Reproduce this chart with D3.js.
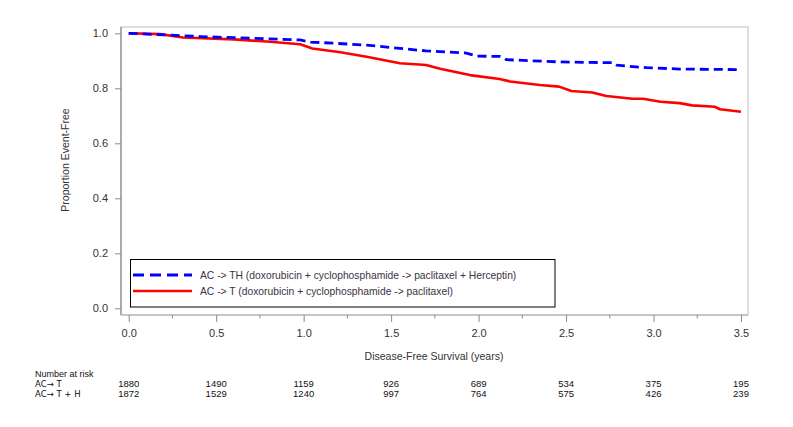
<!DOCTYPE html>
<html>
<head>
<meta charset="utf-8">
<script src="https://cdn.jsdelivr.net/npm/d3@7"></script>
<style>
  html, body { margin: 0; padding: 0; background: #fff; }
  svg { display: block; font-family: "Liberation Sans", Arial, sans-serif; }
</style>
</head>
<body>
<svg id="chart" width="793" height="427"></svg>
<script>
// ---- data ----
const timesTH = [0, 0.22, 0.41, 0.79, 0.98, 1.04, 1.17, 1.36, 1.55, 1.70, 1.93, 1.99, 2.12, 2.16, 2.46, 2.77, 2.79, 2.96, 3.15, 3.50];
const survTH  = [1.0, 0.994, 0.988, 0.980, 0.976, 0.968, 0.964, 0.957, 0.945, 0.936, 0.928, 0.917, 0.916, 0.904, 0.896, 0.893, 0.884, 0.875, 0.870, 0.868];
const timesT  = [0, 0.18, 0.31, 0.60, 0.79, 0.98, 1.05, 1.21, 1.36, 1.55, 1.70, 1.78, 1.95, 2.12, 2.18, 2.35, 2.46, 2.53, 2.65, 2.73, 2.88, 2.94, 3.04, 3.15, 3.22, 3.35, 3.38, 3.50];
const survT   = [1.0, 0.997, 0.985, 0.978, 0.970, 0.960, 0.945, 0.931, 0.915, 0.891, 0.885, 0.871, 0.848, 0.834, 0.825, 0.812, 0.806, 0.790, 0.785, 0.772, 0.762, 0.762, 0.751, 0.746, 0.738, 0.733, 0.724, 0.715];
const xTicks = [0, 0.5, 1.0, 1.5, 2.0, 2.5, 3.0, 3.5];
const xMinorTicks = [0.25, 0.75, 1.25, 1.75, 2.25, 2.75, 3.25];
const yTicks = [0, 0.2, 0.4, 0.6, 0.8, 1.0];
const legendLabels = [
  "AC -> TH (doxorubicin + cyclophosphamide -> paclitaxel + Herceptin)",
  "AC -> T (doxorubicin + cyclophosphamide -> paclitaxel)"
];
const riskRowLabels = ["AC\u2192 T", "AC\u2192 T + H"];
const riskT  = [1880, 1490, 1159, 926, 689, 534, 375, 195];
const riskTH = [1872, 1529, 1240, 997, 764, 575, 426, 239];

// ---- layout ----
const svg = d3.select("#chart");
const x = d3.scaleLinear().domain([0, 3.5]).range([128.7, 741]);
const y = d3.scaleLinear().domain([0, 1]).range([308.3, 33.3]);
const frame = {l: 121, t: 27, r: 748, b: 315};
const textCol = "#333";

// frame
svg.append("rect")
  .attr("x", frame.l).attr("y", frame.t)
  .attr("width", frame.r - frame.l).attr("height", frame.b - frame.t)
  .attr("fill", "none").attr("stroke", "#d2d2d2").attr("stroke-width", 1.5);

// y axis
const yAxis = svg.append("g").attr("transform", `translate(${frame.l},0)`)
  .call(d3.axisLeft(y).tickValues(yTicks).tickFormat(d3.format(".1f")).tickSize(6).tickPadding(7));
yAxis.select(".domain").attr("d", `M0,${frame.t}V${frame.b}`).attr("stroke", "#9a9a9a").attr("stroke-width", 1.5);
yAxis.selectAll(".tick line").attr("stroke", "#8a8a8a");
yAxis.selectAll(".tick text").attr("fill", textCol).style("font-size", "11px");

// x axis
const xAxis = svg.append("g").attr("transform", `translate(0,${frame.b})`)
  .call(d3.axisBottom(x).tickValues(xTicks).tickFormat(d3.format(".1f")).tickSize(7).tickPadding(7));
xAxis.select(".domain").attr("d", `M${frame.l},0H${frame.r}`).attr("stroke", "#bdbdbd").attr("stroke-width", 1.5);
xAxis.selectAll(".tick line").attr("stroke", "#8a8a8a");
xAxis.selectAll(".tick text").attr("fill", textCol).style("font-size", "11px");
svg.append("g").attr("transform", `translate(0,${frame.b})`)
  .selectAll("line").data(xMinorTicks).join("line")
  .attr("x1", d => x(d)).attr("x2", d => x(d))
  .attr("y1", 0).attr("y2", 3.5).attr("stroke", "#8a8a8a");

// axis titles
svg.append("text")
  .attr("transform", "translate(69,160) rotate(-90)")
  .attr("text-anchor", "middle").attr("fill", textCol).style("font-size", "10.5px")
  .text("Proportion Event-Free");
svg.append("text")
  .attr("x", 434).attr("y", 360)
  .attr("text-anchor", "middle").attr("fill", textCol).style("font-size", "10.5px")
  .text("Disease-Free Survival (years)");

// curves
const line = d3.line().x(d => x(d[0])).y(d => y(d[1]));
const dataTH = timesTH.map((t, i) => [t, survTH[i]]);
const dataT  = timesT.map((t, i) => [t, survT[i]]);
svg.append("path").datum(dataT).attr("d", line)
  .attr("fill", "none").attr("stroke", "#ff0000").attr("stroke-width", 2.6)
  .attr("stroke-linejoin", "round");
svg.append("path").datum(dataTH).attr("d", line)
  .attr("fill", "none").attr("stroke", "#0000ff").attr("stroke-width", 2.8)
  .attr("stroke-dasharray", "9,5");

// legend
const lg = svg.append("g");
lg.append("rect").attr("x", 130.5).attr("y", 259.5).attr("width", 424.5).attr("height", 47.5)
  .attr("fill", "#fff").attr("stroke", "#000").attr("stroke-width", 1);
const legendStyles = [
  {color: "#0000ff", dash: "11,6", w: 2.8},
  {color: "#ff0000", dash: null, w: 2.6}
];
legendLabels.forEach((lab, i) => {
  const yy = 275 + i * 16;
  lg.append("line").attr("x1", 133).attr("x2", 192).attr("y1", yy).attr("y2", yy)
    .attr("stroke", legendStyles[i].color).attr("stroke-width", legendStyles[i].w)
    .attr("stroke-dasharray", legendStyles[i].dash);
  lg.append("text").attr("x", 200).attr("y", yy + 3.8)
    .attr("fill", "#3a3344").style("font-size", "10.3px").text(lab);
});

// number at risk
const risk = svg.append("g").attr("fill", "#111").style("font-size", "9px");
risk.append("text").attr("x", 35).attr("y", 377).text("Number at risk");
riskRowLabels.forEach((lab, i) => {
  risk.append("text").attr("x", 35).attr("y", 387 + i * 10)
    .style("font-family", "'DejaVu Sans', sans-serif").style("font-size", "8.5px").text(lab);
});
[riskT, riskTH].forEach((row, i) => {
  risk.selectAll(null).data(row).join("text")
    .attr("x", (d, j) => x(xTicks[j])).attr("y", 387 + i * 10)
    .attr("text-anchor", "middle").style("font-size", "9.5px").text(d => d);
});
</script>
</body>
</html>
